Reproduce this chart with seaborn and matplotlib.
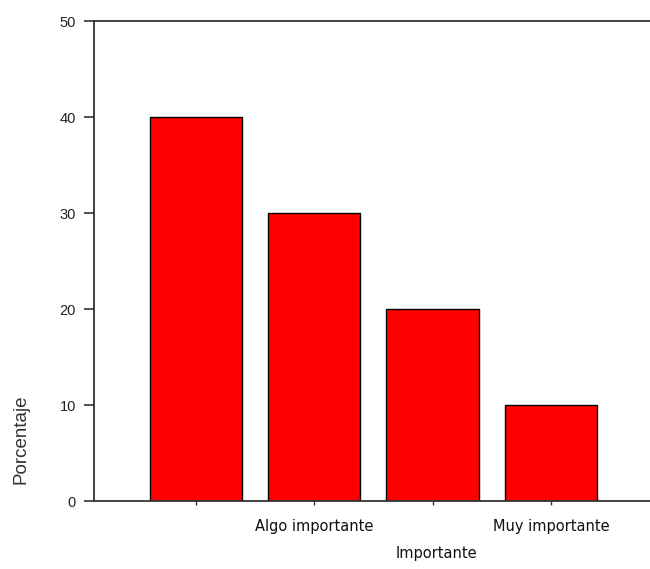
import matplotlib
matplotlib.use("Agg")
import matplotlib.pyplot as plt
import seaborn as sns
import pandas as pd

# Data
categories = ["Cat 1", "Algo importante", "Cat 3", "Muy importante"]
tick_labels = ["", "Algo importante", "", "Muy importante"]
porcentaje = [40, 30, 20, 10]
y_ticks = [0, 10, 20, 30, 40, 50]

df = pd.DataFrame({"Importante": categories, "Porcentaje": porcentaje})

sns.set_style("white")
plt.rcParams["font.family"] = ["Liberation Sans", "DejaVu Sans"]

fig = plt.figure(figsize=(6.5, 5.69), dpi=100)
ax = fig.add_axes([0.1446, 0.1195, 0.8554, 0.8435])

sns.barplot(data=df, x="Importante", y="Porcentaje", order=categories,
            color="#FF0000", edgecolor="black", linewidth=1.0,
            width=0.78, saturation=1, ax=ax)

ax.set_xlim(-0.862, 3.837)
ax.set_ylim(0, 50)
ax.set_yticks(y_ticks)
ax.set_yticklabels([str(t) for t in y_ticks], fontsize=10.5, color="#222222")
ax.set_xticks(range(len(categories)))
ax.set_xticklabels(tick_labels, fontsize=10.5, color="#111111",
                   family="DejaVu Sans")

ax.tick_params(axis="y", direction="out", length=7, width=1.2, pad=6,
               left=True, color="#333333")
ax.tick_params(axis="x", direction="out", length=3, width=1.0, pad=10,
               bottom=True, color="#333333")

for side in ["left", "bottom", "top"]:
    ax.spines[side].set_visible(True)
    ax.spines[side].set_color("#333333")
    ax.spines[side].set_linewidth(1.3)
ax.spines["right"].set_visible(False)

ax.set_xlabel("")
ax.set_ylabel("")
fig.text(0.671, 0.027, "Importante", fontsize=10.5, family="DejaVu Sans",
         ha="center", va="center", color="#111111")
fig.text(0.032, 0.228, "Porcentaje", rotation=90, fontsize=13.5,
         ha="center", va="center", color="#333333")

fig.savefig("out.png", dpi=100)
